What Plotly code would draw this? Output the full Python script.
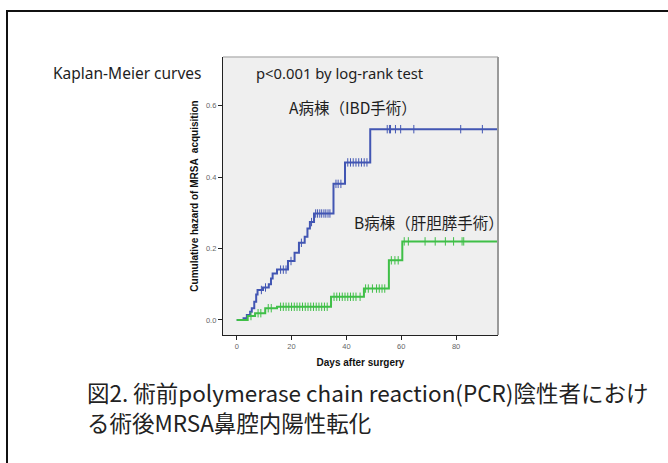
import plotly.graph_objects as go

# ---------------- data ----------------
# Group A (IBD surgery ward): event days and cumulative hazard after each event
a_days = [2.5, 3.7, 4.9, 5.5, 6.4, 7.1, 7.6, 9.6, 11.7, 12.5, 13.1, 14.7, 18.7,
          21.1, 22.7, 24.8, 25.8, 26.7, 28.2, 35.3, 39.5, 48.7]
a_haz = [0.005, 0.014, 0.023, 0.033, 0.051, 0.071, 0.084, 0.091, 0.100, 0.116,
         0.130, 0.141, 0.165, 0.188, 0.216, 0.233, 0.256, 0.274, 0.298, 0.381,
         0.441, 0.534]
a_censor = [9.0, 10.5, 16.0, 17.0, 18.0, 19.8, 23.6, 27.3, 28.8, 29.5, 30.3, 31.0,
            31.8, 32.5, 33.3, 34.0, 36.2, 37.0, 38.0, 40.5, 41.5, 42.5, 43.5,
            44.5, 45.5, 46.5, 47.5, 54.9, 55.7, 56.1, 57.9, 59.8, 64.6, 81.7, 89.6]

# Group B (hepato-biliary-pancreatic surgery ward)
b_days = [4.0, 6.7, 10.4, 14.7, 34.4, 46.4, 55.5, 60.4]
b_haz = [0.011, 0.019, 0.033, 0.037, 0.065, 0.088, 0.167, 0.220]
b_censor = [5.2, 7.8, 8.8, 11.5, 12.6, 16.0, 17.0, 18.0, 19.0, 20.0, 21.0, 22.0,
            23.0, 24.0, 25.0, 26.0, 27.0, 28.0, 29.0, 30.0, 31.0, 32.0, 33.0,
            35.5, 36.5, 37.5, 38.5, 39.5, 40.5, 41.5, 42.5, 43.5, 45.0, 47.0,
            48.0, 49.5, 51.0, 52.0, 53.0, 54.0, 56.4, 57.7, 58.9, 61.1, 62.6,
            68.7, 72.4, 76.1, 79.1, 82.2, 82.8]

x_ticks = [0, 20, 40, 60, 80]
y_ticks = [0.0, 0.2, 0.4, 0.6]
end_day = 97

BLUE = "#4256b3"
GREEN = "#3fbf47"


def level_at(days, haz, t):
    v = 0.0
    for d, h in zip(days, haz):
        if d <= t:
            v = h
    return v


fig = go.Figure()

for days, haz, cens, col in [(a_days, a_haz, a_censor, BLUE),
                             (b_days, b_haz, b_censor, GREEN)]:
    xs = [0] + days + [end_day]
    ys = [0] + haz + [haz[-1]]
    fig.add_trace(go.Scatter(x=xs, y=ys, mode="lines", line_shape="hv",
                             line=dict(color=col, width=2), showlegend=False,
                             hoverinfo="skip"))
    fig.add_trace(go.Scatter(x=cens, y=[level_at(days, haz, t) for t in cens],
                             mode="markers",
                             marker=dict(symbol="line-ns", size=6,
                                         line=dict(color=col, width=1)),
                             showlegend=False, hoverinfo="skip"))

# tiny legend remnants at right edge of plot
leg_y = [0.671, 0.646, 0.624, 0.599]
leg_c = [BLUE, GREEN, "#8c9ad8", "#9fe0a3"]
fig.add_trace(go.Scatter(x=[96.7] * 4, y=leg_y, mode="markers",
                         marker=dict(color=leg_c, size=2.5, symbol="square"),
                         cliponaxis=False, showlegend=False, hoverinfo="skip"))

# ---------------- layout ----------------
W, H = 668, 463
L, T, R, B = 223, 57, 498, 335


def px(x):
    return (x - L) / (R - L)


def py(y):
    return (B - y) / (B - T)


axis_font = dict(family="Liberation Sans, Arial", size=7.5, color="#666666")
title_font = dict(family="Liberation Sans, Arial", size=10, color="#111111")

fig.update_layout(
    width=W, height=H,
    margin=dict(l=L, r=W - R, t=T, b=H - B),
    paper_bgcolor="white", plot_bgcolor="#efefef",
    xaxis=dict(range=[-5, 95.3], tickvals=x_ticks, ticktext=[str(v) for v in x_ticks],
               showgrid=False, zeroline=False, showline=True, linecolor="#222222",
               linewidth=1.3, ticks="outside", ticklen=4, tickcolor="#222222",
               tickfont=axis_font,
               title=dict(text="<b>Days after surgery</b>", font=title_font, standoff=8)),
    yaxis=dict(range=[-0.042, 0.736], tickvals=y_ticks,
               ticktext=["0.0", "0.2", "0.4", "0.6"],
               showgrid=False, zeroline=False, showline=True, linecolor="#222222",
               linewidth=1.3, ticks="outside", ticklen=4, tickcolor="#222222",
               tickfont=axis_font,
               title=dict(text="<b>Cumulative hazard of MRSA  acquisition</b>",
                          font=title_font, standoff=5)),
    font=dict(family="Noto Sans CJK JP"),
)

# plot frame top/right (grey)
fig.add_shape(type="line", xref="paper", yref="paper", x0=0, x1=1, y0=1, y1=1,
              line=dict(color="#b8b8b8", width=1.5))
fig.add_shape(type="line", xref="paper", yref="paper", x0=1, x1=1, y0=0, y1=1,
              line=dict(color="#9a9a9a", width=2))

# outer slide border (extends off page right/bottom)
fig.add_shape(type="rect", xref="paper", yref="paper",
              x0=px(7), x1=px(700), y0=py(500), y1=py(11),
              line=dict(color="#111111", width=2), fillcolor="rgba(0,0,0,0)",
              layer="above")

text_col = "#1e1e1e"
annos = [
    dict(text="Kaplan-Meier curves", x=px(52), y=py(73), xanchor="left",
         font=dict(family="Noto Sans", size=15.5, color=text_col)),
    dict(text="p<0.001 by log-rank test", x=px(255), y=py(73), xanchor="left",
         font=dict(family="Noto Sans", size=14.8, color=text_col)),
    dict(text="A病棟（IBD手術）", x=px(288), y=py(107), xanchor="left",
         font=dict(family="Noto Sans CJK JP", size=15.5, color=text_col)),
    dict(text="B病棟（肝胆膵手術）", x=px(353), y=py(222), xanchor="left",
         font=dict(family="Noto Sans CJK JP", size=15.5, color=text_col)),
    dict(text="図2. 術前polymerase chain reaction(PCR)陰性者におけ",
         x=px(86), y=py(392), xanchor="left",
         font=dict(family="Noto Sans CJK JP", size=22.5, color="#222222")),
    dict(text="る術後MRSA鼻腔内陽性転化",
         x=px(86), y=py(422), xanchor="left",
         font=dict(family="Noto Sans CJK JP", size=22.5, color="#222222")),
]
for a in annos:
    fig.add_annotation(xref="paper", yref="paper", yanchor="middle", showarrow=False,
                       borderpad=0, **a)

fig.write_html("out.html", config={"displayModeBar": False},
               post_script="document.body.style.margin='0';")
